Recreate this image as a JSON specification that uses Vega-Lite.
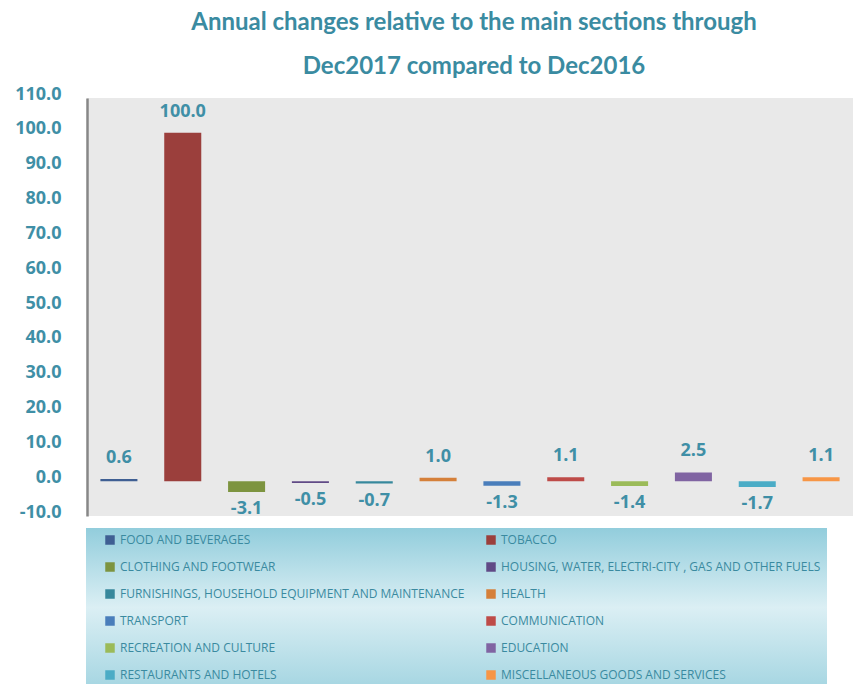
{
  "$schema": "https://vega.github.io/schema/vega-lite/v6.json",
  "autosize": {"type": "none"},
  "padding": {"left": 87, "top": 98, "right": 1, "bottom": 168},
  "width": 766,
  "height": 418,
  "background": "white",
  "title": {
    "text": ["Annual changes relative to the main sections through", "Dec2017 compared to Dec2016"],
    "anchor": "middle",
    "frame": "group",
    "font": "Lato",
    "fontSize": 24,
    "fontWeight": "bold",
    "color": "#3a8ba1",
    "lineHeight": 44,
    "offset": 6,
    "dx": 4
  },
  "config": {
    "view": {"fill": "#e9e9e9", "stroke": null},
    "locale": {
      "number": {"decimal": ".", "thousands": ",", "grouping": [3], "currency": ["$", ""], "minus": "-"}
    }
  },
  "data": {
    "values": [
      {"cat": "FOOD AND BEVERAGES", "value": 0.6},
      {"cat": "TOBACCO", "value": 100.0},
      {"cat": "CLOTHING AND FOOTWEAR", "value": -3.1},
      {"cat": "HOUSING, WATER, ELECTRI-CITY , GAS AND OTHER FUELS", "value": -0.5},
      {"cat": "FURNISHINGS, HOUSEHOLD EQUIPMENT AND MAINTENANCE", "value": -0.7},
      {"cat": "HEALTH", "value": 1.0},
      {"cat": "TRANSPORT", "value": -1.3},
      {"cat": "COMMUNICATION", "value": 1.1},
      {"cat": "RECREATION AND CULTURE", "value": -1.4},
      {"cat": "EDUCATION", "value": 2.5},
      {"cat": "RESTAURANTS AND HOTELS", "value": -1.7},
      {"cat": "MISCELLANEOUS GOODS AND SERVICES", "value": 1.1}
    ]
  },
  "encoding": {
    "x": {
      "field": "cat",
      "type": "nominal",
      "sort": null,
      "axis": null,
      "scale": {"paddingInner": 0.42, "paddingOuter": 0.21}
    },
    "y": {
      "field": "value",
      "type": "quantitative",
      "scale": {"domain": [-10, 110], "nice": false, "zero": false},
      "axis": {
        "values": [-10, 0, 10, 20, 30, 40, 50, 60, 70, 80, 90, 100, 110],
        "labelExpr": "replace(format(datum.value, '.1f'), '\u2212', '-')",
        "title": null,
        "grid": false,
        "ticks": false,
        "domainColor": "#878787",
        "domainWidth": 2.5,
        "labelFont": "Open Sans",
        "labelFontWeight": "bold",
        "labelFontSize": 18,
        "labelColor": "#3f8fa6",
        "labelPadding": 26,
        "labelOffset": -4,
        "labelFlush": false,
        "labelOverlap": false
      }
    }
  },
  "layer": [
    {
      "mark": {"type": "bar"},
      "encoding": {
        "y2": {"datum": 0},
        "color": {
          "field": "cat",
          "type": "nominal",
          "sort": null,
          "scale": {
            "domain": ["FOOD AND BEVERAGES", "TOBACCO", "CLOTHING AND FOOTWEAR", "HOUSING, WATER, ELECTRI-CITY , GAS AND OTHER FUELS", "FURNISHINGS, HOUSEHOLD EQUIPMENT AND MAINTENANCE", "HEALTH", "TRANSPORT", "COMMUNICATION", "RECREATION AND CULTURE", "EDUCATION", "RESTAURANTS AND HOTELS", "MISCELLANEOUS GOODS AND SERVICES"],
            "range": ["#3f5f93", "#9b3f3c", "#7d9440", "#604a86", "#37889c", "#d5803a", "#4a7ebb", "#be4b48", "#9bbb59", "#8064a2", "#4bacc6", "#f79646"]
          },
          "legend": {
            "orient": "none",
            "legendX": -1,
            "legendY": 430,
            "direction": "horizontal",
            "columns": 2,
            "title": null,
            "symbolType": "square",
            "symbolSize": 90,
            "symbolStrokeWidth": 0,
            "symbolOffset": 12,
            "labelFont": "Open Sans",
            "labelFontSize": 12,
            "labelColor": "#3a8aa0",
            "labelOffset": 4,
            "labelLimit": 500,
            "rowPadding": 15,
            "columnPadding": 8,
            "padding": 6,
            "encode": {
              "legend": {
                "update": {
                  "fill": {
                    "value": {
                      "gradient": "linear",
                      "x1": 0, "y1": 0, "x2": 0, "y2": 1,
                      "stops": [
                        {"offset": 0, "color": "#92cddc"},
                        {"offset": 0.5, "color": "#dbeff4"},
                        {"offset": 1, "color": "#a6d6e2"}
                      ]
                    }
                  }
                }
              }
            }
          }
        }
      }
    },
    {
      "mark": {"type": "rule", "color": "#878787", "strokeWidth": 2.5},
      "encoding": {"y": {"datum": 0}}
    },
    {
      "transform": [{"filter": "datum.value >= 0"}],
      "mark": {"type": "text", "dy": -21, "font": "Open Sans", "fontWeight": "bold", "fontSize": 18, "color": "#3f8fa6", "baseline": "middle"},
      "encoding": {"text": {"field": "value", "type": "quantitative", "format": ".1f"}}
    },
    {
      "transform": [{"filter": "datum.value < 0"}],
      "mark": {"type": "text", "dy": 17, "font": "Open Sans", "fontWeight": "bold", "fontSize": 18, "color": "#3f8fa6", "baseline": "middle"},
      "encoding": {"text": {"field": "value", "type": "quantitative", "format": ".1f"}}
    }
  ]
}
